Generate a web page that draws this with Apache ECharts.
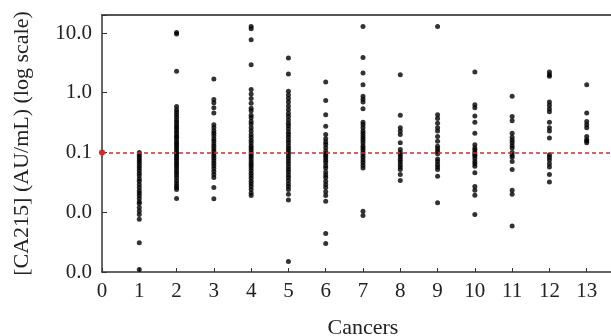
<!DOCTYPE html>
<html>
<head>
<meta charset="utf-8">
<script src="https://cdn.jsdelivr.net/npm/echarts@6/dist/echarts.min.js"></script>
<style>
  html, body { margin: 0; padding: 0; background: #fff; }
  #chart { width: 611px; height: 336px; }
</style>
</head>
<body>
<div id="chart"></div>
<script>
// CA215 values (AU/mL) per cancer group
const cancer1 = [0.1, 0.092, 0.085, 0.078, 0.072, 0.066, 0.06, 0.055, 0.05, 0.045, 0.041, 0.036, 0.033, 0.029, 0.026, 0.023, 0.021, 0.019, 0.017, 0.015, 0.014, 0.012, 0.0105, 0.0092, 0.0076, 0.0031, 0.0011];
const cancer2 = [9.6, 10.2, 2.28, 0.59, 0.52, 0.47, 0.43, 0.39, 0.35, 0.32, 0.29, 0.27, 0.25, 0.23, 0.21, 0.19, 0.18, 0.165, 0.15, 0.14, 0.13, 0.12, 0.11, 0.1, 0.095, 0.088, 0.082, 0.076, 0.07, 0.065, 0.06, 0.055, 0.05, 0.046, 0.042, 0.038, 0.034, 0.031, 0.028, 0.026, 0.024, 0.017];
const cancer3 = [1.7, 0.77, 0.68, 0.56, 0.46, 0.29, 0.26, 0.23, 0.21, 0.19, 0.17, 0.155, 0.14, 0.127, 0.115, 0.105, 0.095, 0.087, 0.08, 0.073, 0.066, 0.06, 0.054, 0.048, 0.043, 0.038, 0.026, 0.0168];
const cancer4 = [12.9, 11.8, 7.7, 2.95, 1.13, 0.95, 0.8, 0.67, 0.55, 0.5, 0.42, 0.38, 0.33, 0.3, 0.26, 0.23, 0.2, 0.18, 0.16, 0.145, 0.13, 0.12, 0.11, 0.1, 0.092, 0.085, 0.078, 0.071, 0.065, 0.06, 0.055, 0.05, 0.045, 0.041, 0.037, 0.033, 0.03, 0.027, 0.024, 0.021, 0.019];
const cancer5 = [3.82, 2.06, 1.06, 0.92, 0.8, 0.7, 0.6, 0.52, 0.45, 0.4, 0.35, 0.31, 0.28, 0.25, 0.22, 0.2, 0.18, 0.16, 0.145, 0.13, 0.118, 0.107, 0.097, 0.088, 0.08, 0.072, 0.065, 0.058, 0.052, 0.047, 0.042, 0.038, 0.034, 0.03, 0.027, 0.024, 0.02, 0.016, 0.0015];
const cancer6 = [1.51, 0.74, 0.43, 0.275, 0.2, 0.17, 0.15, 0.136, 0.12, 0.105, 0.095, 0.088, 0.082, 0.074, 0.068, 0.06, 0.055, 0.047, 0.042, 0.038, 0.033, 0.029, 0.026, 0.022, 0.019, 0.0153, 0.0044, 0.003];
const cancer7 = [12.9, 3.9, 2.14, 1.36, 0.87, 0.78, 0.7, 0.54, 0.32, 0.29, 0.26, 0.23, 0.21, 0.19, 0.175, 0.16, 0.145, 0.13, 0.12, 0.11, 0.1, 0.092, 0.083, 0.075, 0.068, 0.061, 0.055, 0.0104, 0.0088];
const cancer8 = [2.0, 0.42, 0.26, 0.23, 0.2, 0.145, 0.112, 0.1, 0.092, 0.084, 0.076, 0.07, 0.063, 0.057, 0.052, 0.043, 0.034];
const cancer9 = [12.9, 0.43, 0.37, 0.31, 0.26, 0.23, 0.186, 0.154, 0.127, 0.115, 0.105, 0.095, 0.078, 0.071, 0.063, 0.057, 0.052, 0.04, 0.0144];
const cancer10 = [2.23, 0.63, 0.56, 0.41, 0.32, 0.21, 0.135, 0.119, 0.11, 0.1, 0.093, 0.087, 0.079, 0.071, 0.065, 0.059, 0.046, 0.027, 0.0233, 0.0192, 0.0092];
const cancer11 = [0.87, 0.4, 0.34, 0.21, 0.18, 0.16, 0.145, 0.13, 0.119, 0.1, 0.09, 0.083, 0.071, 0.052, 0.0233, 0.02, 0.0059];
const cancer12 = [2.23, 2.0, 1.88, 0.7, 0.62, 0.54, 0.48, 0.32, 0.26, 0.23, 0.175, 0.092, 0.083, 0.075, 0.065, 0.057, 0.043, 0.032];
const cancer13 = [1.36, 0.46, 0.33, 0.29, 0.26, 0.186, 0.164, 0.155, 0.145];

const groups = [cancer1, cancer2, cancer3, cancer4, cancer5, cancer6, cancer7,
  cancer8, cancer9, cancer10, cancer11, cancer12, cancer13];
const cutoff = 0.1;

const points = [];
groups.forEach((vals, i) => {
  vals.forEach(v => points.push([i + 1, v]));
});

const font = 'Liberation Serif';
const axisColor = '#333';

const chart = echarts.init(document.getElementById('chart'));
chart.setOption({
  animation: false,
  grid: { left: 102, top: 15, width: 522, bottom: 64, outerBoundsMode: 'none', containLabel: false },
  xAxis: [{
    type: 'value',
    min: 0,
    max: 14,
    interval: 1,
    name: 'Cancers',
    nameLocation: 'middle',
    nameGap: 45,
    nameTextStyle: { fontFamily: font, fontSize: 22, color: '#222' },
    axisLine: { show: true, lineStyle: { color: axisColor, width: 1.5 } },
    axisTick: { show: true, inside: true, length: 4, lineStyle: { color: axisColor } },
    axisLabel: {
      fontFamily: font, fontSize: 21, color: '#222', margin: 9,
      formatter: v => (v > 13 ? '' : String(v))
    },
    splitLine: { show: false }
  }, {
    type: 'value',
    position: 'top',
    min: 0,
    max: 14,
    axisLine: { show: true, lineStyle: { color: '#555', width: 2 } },
    axisTick: { show: false },
    axisLabel: { show: false },
    splitLine: { show: false }
  }],
  yAxis: {
    type: 'log',
    logBase: 10,
    min: 0.001,
    max: 20,
    name: '[CA215] (AU/mL) (log scale)',
    nameLocation: 'middle',
    nameGap: 69,
    nameTextStyle: { fontFamily: font, fontSize: 22, color: '#222' },
    axisLine: { show: true, lineStyle: { color: axisColor, width: 1.5 } },
    axisTick: { show: true, inside: true, length: 5, lineStyle: { color: axisColor } },
    axisLabel: {
      fontFamily: font, fontSize: 21, color: '#222', margin: 10,
      formatter: v => {
        const e = Math.log10(v);
        return Math.abs(e - Math.round(e)) < 1e-6 ? v.toFixed(1) : '';
      }
    },
    splitLine: { show: false }
  },
  series: [{
    type: 'scatter',
    data: points,
    symbol: 'circle',
    symbolSize: 5,
    itemStyle: { color: '#000' },
    markLine: {
      silent: true,
      symbol: ['circle', 'none'],
      symbolSize: 6,
      label: { show: false },
      lineStyle: { color: '#d42a2a', type: [4, 3], width: 1.5 },
      data: [{ yAxis: cutoff }]
    }
  }]
});
</script>
</body>
</html>
